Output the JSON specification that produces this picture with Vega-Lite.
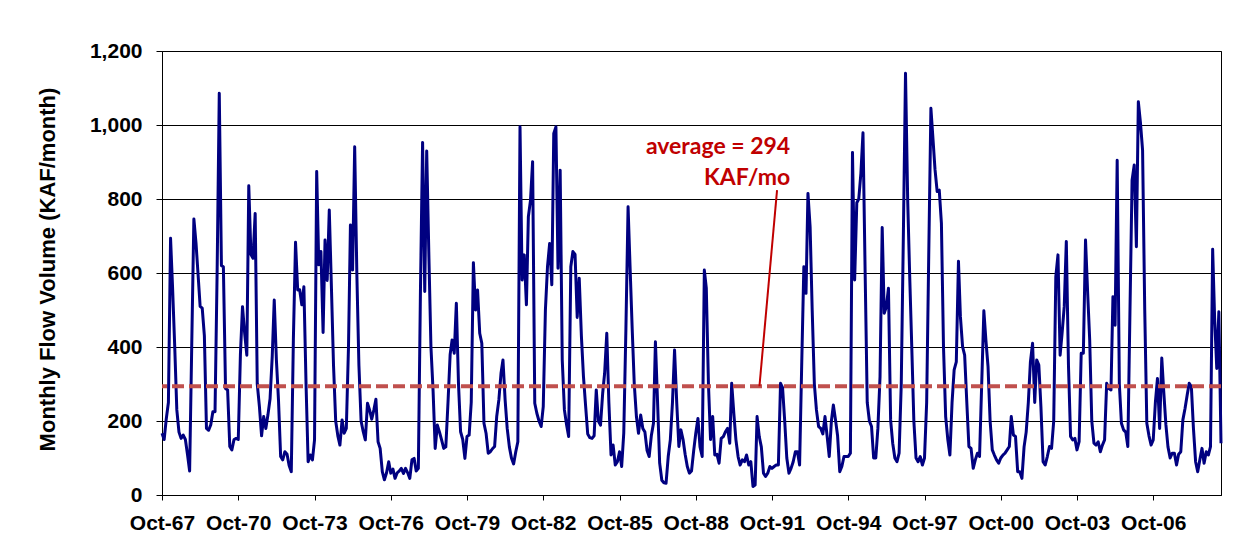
{
"$schema": "https://vega.github.io/schema/vega-lite/v6.json",
"width": 1059,
"height": 444,
"autosize": {"type": "none"},
"padding": {"left": 162, "top": 51, "right": 30, "bottom": 64},
"background": "white",
"config": {"view": {"stroke": "black", "strokeWidth": 1}, "font": "Liberation Sans"},
"layer": [
{
"data": {"values": [
{"d":"1967-10","v":167},{"d":"1967-11","v":150},{"d":"1967-12","v":205},{"d":"1968-01","v":250},{"d":"1968-02","v":694},{"d":"1968-03","v":560},{"d":"1968-04","v":400},{"d":"1968-05","v":230},{"d":"1968-06","v":170},{"d":"1968-07","v":153},{"d":"1968-08","v":162},{"d":"1968-09","v":150},
{"d":"1968-10","v":110},{"d":"1968-11","v":65},{"d":"1968-12","v":400},{"d":"1969-01","v":746},{"d":"1969-02","v":680},{"d":"1969-03","v":600},{"d":"1969-04","v":510},{"d":"1969-05","v":505},{"d":"1969-06","v":430},{"d":"1969-07","v":180},{"d":"1969-08","v":175},{"d":"1969-09","v":190},
{"d":"1969-10","v":225},{"d":"1969-11","v":225},{"d":"1969-12","v":600},{"d":"1970-01","v":1086},{"d":"1970-02","v":620},{"d":"1970-03","v":617},{"d":"1970-04","v":288},{"d":"1970-05","v":284},{"d":"1970-06","v":131},{"d":"1970-07","v":122},{"d":"1970-08","v":150},{"d":"1970-09","v":153},
{"d":"1970-10","v":150},{"d":"1970-11","v":380},{"d":"1970-12","v":509},{"d":"1971-01","v":437},{"d":"1971-02","v":378},{"d":"1971-03","v":836},{"d":"1971-04","v":650},{"d":"1971-05","v":640},{"d":"1971-06","v":761},{"d":"1971-07","v":300},{"d":"1971-08","v":239},{"d":"1971-09","v":160},
{"d":"1971-10","v":212},{"d":"1971-11","v":180},{"d":"1971-12","v":216},{"d":"1972-01","v":260},{"d":"1972-02","v":374},{"d":"1972-03","v":527},{"d":"1972-04","v":365},{"d":"1972-05","v":257},{"d":"1972-06","v":104},{"d":"1972-07","v":95},{"d":"1972-08","v":117},{"d":"1972-09","v":110},
{"d":"1972-10","v":80},{"d":"1972-11","v":63},{"d":"1972-12","v":420},{"d":"1973-01","v":683},{"d":"1973-02","v":554},{"d":"1973-03","v":555},{"d":"1973-04","v":514},{"d":"1973-05","v":563},{"d":"1973-06","v":300},{"d":"1973-07","v":90},{"d":"1973-08","v":108},{"d":"1973-09","v":95},
{"d":"1973-10","v":149},{"d":"1973-11","v":874},{"d":"1973-12","v":622},{"d":"1974-01","v":658},{"d":"1974-02","v":439},{"d":"1974-03","v":689},{"d":"1974-04","v":580},{"d":"1974-05","v":770},{"d":"1974-06","v":560},{"d":"1974-07","v":350},{"d":"1974-08","v":200},{"d":"1974-09","v":160},
{"d":"1974-10","v":135},{"d":"1974-11","v":203},{"d":"1974-12","v":167},{"d":"1975-01","v":180},{"d":"1975-02","v":400},{"d":"1975-03","v":730},{"d":"1975-04","v":608},{"d":"1975-05","v":941},{"d":"1975-06","v":599},{"d":"1975-07","v":350},{"d":"1975-08","v":200},{"d":"1975-09","v":171},
{"d":"1975-10","v":149},{"d":"1975-11","v":248},{"d":"1975-12","v":230},{"d":"1976-01","v":205},{"d":"1976-02","v":230},{"d":"1976-03","v":259},{"d":"1976-04","v":144},{"d":"1976-05","v":126},{"d":"1976-06","v":63},{"d":"1976-07","v":41},{"d":"1976-08","v":60},{"d":"1976-09","v":90},
{"d":"1976-10","v":59},{"d":"1976-11","v":70},{"d":"1976-12","v":45},{"d":"1977-01","v":60},{"d":"1977-02","v":65},{"d":"1977-03","v":72},{"d":"1977-04","v":58},{"d":"1977-05","v":72},{"d":"1977-06","v":60},{"d":"1977-07","v":45},{"d":"1977-08","v":95},{"d":"1977-09","v":99},
{"d":"1977-10","v":65},{"d":"1977-11","v":72},{"d":"1977-12","v":550},{"d":"1978-01","v":953},{"d":"1978-02","v":550},{"d":"1978-03","v":930},{"d":"1978-04","v":650},{"d":"1978-05","v":400},{"d":"1978-06","v":280},{"d":"1978-07","v":126},{"d":"1978-08","v":189},{"d":"1978-09","v":170},
{"d":"1978-10","v":149},{"d":"1978-11","v":126},{"d":"1978-12","v":130},{"d":"1979-01","v":250},{"d":"1979-02","v":380},{"d":"1979-03","v":419},{"d":"1979-04","v":383},{"d":"1979-05","v":518},{"d":"1979-06","v":300},{"d":"1979-07","v":171},{"d":"1979-08","v":150},{"d":"1979-09","v":99},
{"d":"1979-10","v":158},{"d":"1979-11","v":162},{"d":"1979-12","v":250},{"d":"1980-01","v":628},{"d":"1980-02","v":500},{"d":"1980-03","v":554},{"d":"1980-04","v":437},{"d":"1980-05","v":410},{"d":"1980-06","v":194},{"d":"1980-07","v":167},{"d":"1980-08","v":113},{"d":"1980-09","v":117},
{"d":"1980-10","v":125},{"d":"1980-11","v":131},{"d":"1980-12","v":212},{"d":"1981-01","v":257},{"d":"1981-02","v":329},{"d":"1981-03","v":365},{"d":"1981-04","v":257},{"d":"1981-05","v":180},{"d":"1981-06","v":130},{"d":"1981-07","v":100},{"d":"1981-08","v":84},{"d":"1981-09","v":117},
{"d":"1981-10","v":144},{"d":"1981-11","v":995},{"d":"1981-12","v":581},{"d":"1982-01","v":649},{"d":"1982-02","v":514},{"d":"1982-03","v":752},{"d":"1982-04","v":797},{"d":"1982-05","v":901},{"d":"1982-06","v":248},{"d":"1982-07","v":221},{"d":"1982-08","v":200},{"d":"1982-09","v":185},
{"d":"1982-10","v":239},{"d":"1982-11","v":500},{"d":"1982-12","v":617},{"d":"1983-01","v":680},{"d":"1983-02","v":568},{"d":"1983-03","v":977},{"d":"1983-04","v":995},{"d":"1983-05","v":613},{"d":"1983-06","v":878},{"d":"1983-07","v":365},{"d":"1983-08","v":230},{"d":"1983-09","v":190},
{"d":"1983-10","v":158},{"d":"1983-11","v":617},{"d":"1983-12","v":658},{"d":"1984-01","v":650},{"d":"1984-02","v":480},{"d":"1984-03","v":586},{"d":"1984-04","v":430},{"d":"1984-05","v":320},{"d":"1984-06","v":240},{"d":"1984-07","v":165},{"d":"1984-08","v":155},{"d":"1984-09","v":153},
{"d":"1984-10","v":160},{"d":"1984-11","v":284},{"d":"1984-12","v":200},{"d":"1985-01","v":189},{"d":"1985-02","v":275},{"d":"1985-03","v":329},{"d":"1985-04","v":437},{"d":"1985-05","v":250},{"d":"1985-06","v":108},{"d":"1985-07","v":135},{"d":"1985-08","v":81},{"d":"1985-09","v":90},
{"d":"1985-10","v":117},{"d":"1985-11","v":77},{"d":"1985-12","v":167},{"d":"1986-01","v":450},{"d":"1986-02","v":779},{"d":"1986-03","v":620},{"d":"1986-04","v":450},{"d":"1986-05","v":300},{"d":"1986-06","v":212},{"d":"1986-07","v":167},{"d":"1986-08","v":216},{"d":"1986-09","v":180},
{"d":"1986-10","v":170},{"d":"1986-11","v":120},{"d":"1986-12","v":104},{"d":"1987-01","v":160},{"d":"1987-02","v":194},{"d":"1987-03","v":414},{"d":"1987-04","v":250},{"d":"1987-05","v":86},{"d":"1987-06","v":40},{"d":"1987-07","v":33},{"d":"1987-08","v":32},{"d":"1987-09","v":104},
{"d":"1987-10","v":149},{"d":"1987-11","v":250},{"d":"1987-12","v":392},{"d":"1988-01","v":250},{"d":"1988-02","v":131},{"d":"1988-03","v":176},{"d":"1988-04","v":150},{"d":"1988-05","v":110},{"d":"1988-06","v":77},{"d":"1988-07","v":59},{"d":"1988-08","v":65},{"d":"1988-09","v":120},
{"d":"1988-10","v":167},{"d":"1988-11","v":207},{"d":"1988-12","v":130},{"d":"1989-01","v":104},{"d":"1989-02","v":608},{"d":"1989-03","v":560},{"d":"1989-04","v":300},{"d":"1989-05","v":150},{"d":"1989-06","v":212},{"d":"1989-07","v":108},{"d":"1989-08","v":110},{"d":"1989-09","v":86},
{"d":"1989-10","v":153},{"d":"1989-11","v":158},{"d":"1989-12","v":171},{"d":"1990-01","v":180},{"d":"1990-02","v":140},{"d":"1990-03","v":302},{"d":"1990-04","v":220},{"d":"1990-05","v":149},{"d":"1990-06","v":104},{"d":"1990-07","v":81},{"d":"1990-08","v":95},{"d":"1990-09","v":90},
{"d":"1990-10","v":108},{"d":"1990-11","v":81},{"d":"1990-12","v":90},{"d":"1991-01","v":23},{"d":"1991-02","v":27},{"d":"1991-03","v":212},{"d":"1991-04","v":158},{"d":"1991-05","v":130},{"d":"1991-06","v":59},{"d":"1991-07","v":50},{"d":"1991-08","v":59},{"d":"1991-09","v":77},
{"d":"1991-10","v":72},{"d":"1991-11","v":77},{"d":"1991-12","v":81},{"d":"1992-01","v":81},{"d":"1992-02","v":302},{"d":"1992-03","v":290},{"d":"1992-04","v":200},{"d":"1992-05","v":100},{"d":"1992-06","v":59},{"d":"1992-07","v":72},{"d":"1992-08","v":90},{"d":"1992-09","v":117},
{"d":"1992-10","v":117},{"d":"1992-11","v":81},{"d":"1992-12","v":350},{"d":"1993-01","v":617},{"d":"1993-02","v":545},{"d":"1993-03","v":815},{"d":"1993-04","v":725},{"d":"1993-05","v":500},{"d":"1993-06","v":300},{"d":"1993-07","v":230},{"d":"1993-08","v":185},{"d":"1993-09","v":180},
{"d":"1993-10","v":165},{"d":"1993-11","v":212},{"d":"1993-12","v":160},{"d":"1994-01","v":104},{"d":"1994-02","v":200},{"d":"1994-03","v":243},{"d":"1994-04","v":203},{"d":"1994-05","v":160},{"d":"1994-06","v":63},{"d":"1994-07","v":77},{"d":"1994-08","v":104},{"d":"1994-09","v":104},
{"d":"1994-10","v":104},{"d":"1994-11","v":113},{"d":"1994-12","v":926},{"d":"1995-01","v":581},{"d":"1995-02","v":790},{"d":"1995-03","v":800},{"d":"1995-04","v":870},{"d":"1995-05","v":979},{"d":"1995-06","v":600},{"d":"1995-07","v":250},{"d":"1995-08","v":200},{"d":"1995-09","v":185},
{"d":"1995-10","v":100},{"d":"1995-11","v":100},{"d":"1995-12","v":180},{"d":"1996-01","v":320},{"d":"1996-02","v":723},{"d":"1996-03","v":491},{"d":"1996-04","v":509},{"d":"1996-05","v":559},{"d":"1996-06","v":203},{"d":"1996-07","v":140},{"d":"1996-08","v":100},{"d":"1996-09","v":90},
{"d":"1996-10","v":113},{"d":"1996-11","v":300},{"d":"1996-12","v":700},{"d":"1997-01","v":1140},{"d":"1997-02","v":800},{"d":"1997-03","v":600},{"d":"1997-04","v":400},{"d":"1997-05","v":200},{"d":"1997-06","v":100},{"d":"1997-07","v":90},{"d":"1997-08","v":104},{"d":"1997-09","v":81},
{"d":"1997-10","v":100},{"d":"1997-11","v":250},{"d":"1997-12","v":650},{"d":"1998-01","v":1045},{"d":"1998-02","v":959},{"d":"1998-03","v":880},{"d":"1998-04","v":820},{"d":"1998-05","v":824},{"d":"1998-06","v":734},{"d":"1998-07","v":400},{"d":"1998-08","v":212},{"d":"1998-09","v":150},
{"d":"1998-10","v":108},{"d":"1998-11","v":250},{"d":"1998-12","v":338},{"d":"1999-01","v":360},{"d":"1999-02","v":632},{"d":"1999-03","v":482},{"d":"1999-04","v":401},{"d":"1999-05","v":378},{"d":"1999-06","v":250},{"d":"1999-07","v":131},{"d":"1999-08","v":126},{"d":"1999-09","v":72},
{"d":"1999-10","v":95},{"d":"1999-11","v":113},{"d":"1999-12","v":104},{"d":"2000-01","v":300},{"d":"2000-02","v":498},{"d":"2000-03","v":419},{"d":"2000-04","v":347},{"d":"2000-05","v":200},{"d":"2000-06","v":122},{"d":"2000-07","v":108},{"d":"2000-08","v":95},{"d":"2000-09","v":86},
{"d":"2000-10","v":100},{"d":"2000-11","v":108},{"d":"2000-12","v":113},{"d":"2001-01","v":122},{"d":"2001-02","v":131},{"d":"2001-03","v":212},{"d":"2001-04","v":162},{"d":"2001-05","v":158},{"d":"2001-06","v":63},{"d":"2001-07","v":63},{"d":"2001-08","v":45},{"d":"2001-09","v":130},
{"d":"2001-10","v":170},{"d":"2001-11","v":250},{"d":"2001-12","v":360},{"d":"2002-01","v":410},{"d":"2002-02","v":250},{"d":"2002-03","v":365},{"d":"2002-04","v":351},{"d":"2002-05","v":239},{"d":"2002-06","v":90},{"d":"2002-07","v":81},{"d":"2002-08","v":104},{"d":"2002-09","v":131},
{"d":"2002-10","v":126},{"d":"2002-11","v":200},{"d":"2002-12","v":590},{"d":"2003-01","v":649},{"d":"2003-02","v":378},{"d":"2003-03","v":437},{"d":"2003-04","v":509},{"d":"2003-05","v":685},{"d":"2003-06","v":350},{"d":"2003-07","v":158},{"d":"2003-08","v":149},{"d":"2003-09","v":153},
{"d":"2003-10","v":122},{"d":"2003-11","v":144},{"d":"2003-12","v":383},{"d":"2004-01","v":383},{"d":"2004-02","v":689},{"d":"2004-03","v":554},{"d":"2004-04","v":419},{"d":"2004-05","v":200},{"d":"2004-06","v":140},{"d":"2004-07","v":135},{"d":"2004-08","v":144},{"d":"2004-09","v":117},
{"d":"2004-10","v":135},{"d":"2004-11","v":149},{"d":"2004-12","v":302},{"d":"2005-01","v":288},{"d":"2005-02","v":284},{"d":"2005-03","v":536},{"d":"2005-04","v":459},{"d":"2005-05","v":905},{"d":"2005-06","v":300},{"d":"2005-07","v":194},{"d":"2005-08","v":176},{"d":"2005-09","v":170},
{"d":"2005-10","v":131},{"d":"2005-11","v":500},{"d":"2005-12","v":851},{"d":"2006-01","v":892},{"d":"2006-02","v":671},{"d":"2006-03","v":1063},{"d":"2006-04","v":1005},{"d":"2006-05","v":932},{"d":"2006-06","v":500},{"d":"2006-07","v":194},{"d":"2006-08","v":160},{"d":"2006-09","v":135},
{"d":"2006-10","v":149},{"d":"2006-11","v":250},{"d":"2006-12","v":315},{"d":"2007-01","v":180},{"d":"2007-02","v":370},{"d":"2007-03","v":280},{"d":"2007-04","v":190},{"d":"2007-05","v":130},{"d":"2007-06","v":100},{"d":"2007-07","v":113},{"d":"2007-08","v":113},{"d":"2007-09","v":81},
{"d":"2007-10","v":110},{"d":"2007-11","v":117},{"d":"2007-12","v":203},{"d":"2008-01","v":234},{"d":"2008-02","v":270},{"d":"2008-03","v":302},{"d":"2008-04","v":293},{"d":"2008-05","v":180},{"d":"2008-06","v":90},{"d":"2008-07","v":63},{"d":"2008-08","v":95},{"d":"2008-09","v":126},
{"d":"2008-10","v":86},{"d":"2008-11","v":117},{"d":"2008-12","v":108},{"d":"2009-01","v":131},{"d":"2009-02","v":664},{"d":"2009-03","v":480},{"d":"2009-04","v":342},{"d":"2009-05","v":495},{"d":"2009-06","v":140}
]},
"mark": {"type": "line", "color": "#000080", "strokeWidth": 3, "strokeJoin": "round"},
"encoding": {
"x": {"field": "d", "type": "temporal",
"scale": {"type": "utc", "domain": [{"year":1967,"month":10,"date":1,"utc":true},{"year":2009,"month":6,"date":1,"utc":true}]},
"axis": {"title": null, "grid": false, "labelExpr": "utcFormat(datum.value, '%b-%y')",
"values": [{"year":1967,"month":10,"date":1,"utc":true},{"year":1970,"month":10,"date":1,"utc":true},{"year":1973,"month":10,"date":1,"utc":true},{"year":1976,"month":10,"date":1,"utc":true},{"year":1979,"month":10,"date":1,"utc":true},{"year":1982,"month":10,"date":1,"utc":true},{"year":1985,"month":10,"date":1,"utc":true},{"year":1988,"month":10,"date":1,"utc":true},{"year":1991,"month":10,"date":1,"utc":true},{"year":1994,"month":10,"date":1,"utc":true},{"year":1997,"month":10,"date":1,"utc":true},{"year":2000,"month":10,"date":1,"utc":true},{"year":2003,"month":10,"date":1,"utc":true},{"year":2006,"month":10,"date":1,"utc":true}],
"labelFontSize": 21, "labelFontWeight": "bold", "labelColor": "black", "labelFont": "Liberation Sans",
"labelPadding": 12, "labelOverlap": false, "labelFlush": false,
"tickSize": 5, "tickColor": "black", "domainColor": "black", "domainWidth": 1}},
"y": {"field": "v", "type": "quantitative",
"scale": {"domain": [0, 1200], "nice": false},
"axis": {"title": "Monthly Flow Volume (KAF/month)", "values": [0,200,400,600,800,1000,1200], "format": ",d",
"grid": true, "gridColor": "black", "gridWidth": 1, "gridOpacity": 1,
"labelFontSize": 21, "labelFontWeight": "bold", "labelColor": "black", "labelFont": "Liberation Sans",
"labelPadding": 14, "tickSize": 6, "tickColor": "black", "domainColor": "black",
"titleFontSize": 22, "titleFontWeight": "bold", "titleColor": "black", "titleFont": "Liberation Sans",
"titleX": -115, "titleY": 218, "titleAngle": 270, "titleAlign": "center", "titleBaseline": "middle"}}
}
},
{
"data": {"values": [{"avg": 294}]},
"mark": {"type": "rule", "color": "#C0504D", "strokeWidth": 4, "strokeDash": [12, 5]},
"encoding": {"y": {"field": "avg", "type": "quantitative"}}
},
{
"data": {"values": [{"d": "1991-12-13", "v": 824}, {"d": "1991-04-04", "v": 294}]},
"mark": {"type": "line", "color": "#C00000", "strokeWidth": 2},
"encoding": {"x": {"field": "d", "type": "temporal"}, "y": {"field": "v", "type": "quantitative"}}
},
{
"data": {"values": [{"d": "1992-06-19", "v": 941, "t": "average = 294"}, {"d": "1992-06-19", "v": 858, "t": "KAF/mo"}]},
"mark": {"type": "text", "align": "right", "baseline": "middle", "font": "Lato", "fontWeight": "bold", "fontSize": 23, "color": "#C00000"},
"encoding": {"x": {"field": "d", "type": "temporal"}, "y": {"field": "v", "type": "quantitative"}, "text": {"field": "t"}}
}
]
}
